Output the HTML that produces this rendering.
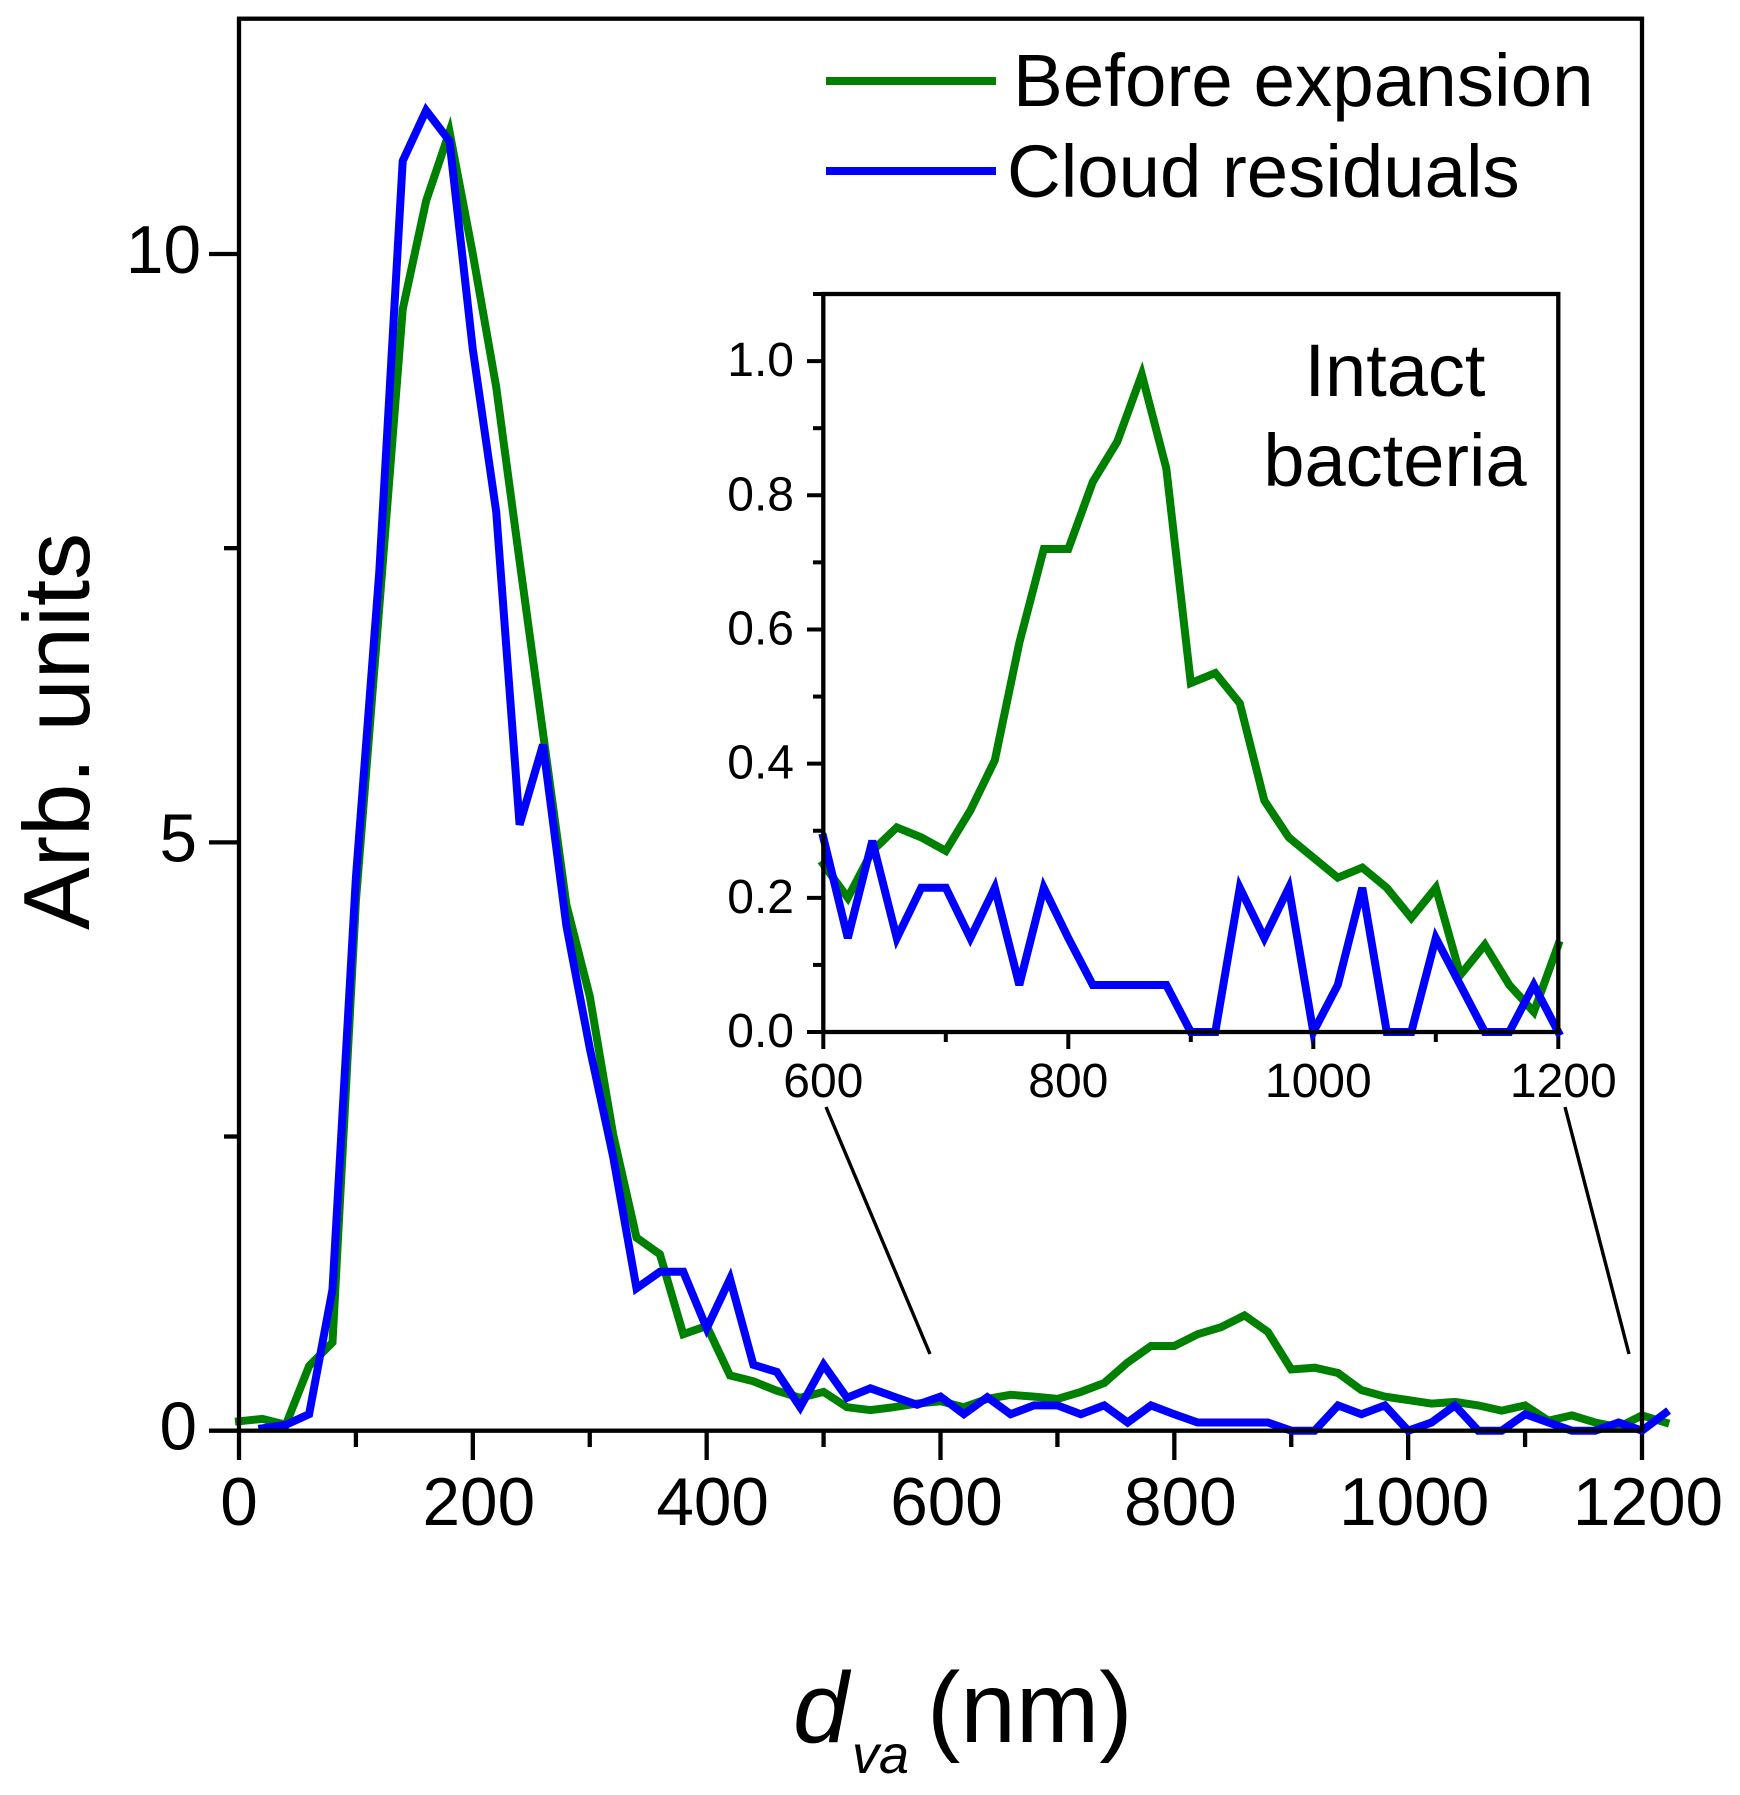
<!DOCTYPE html>
<html lang="en">
<head>
<meta charset="utf-8">
<title>Size distribution chart</title>
<style>
html,body{margin:0;padding:0;background:#fff;}
svg{display:block;}
text{font-family:"Liberation Sans",Arial,sans-serif;fill:#000;}
</style>
</head>
<body>
<svg id="chart" xmlns="http://www.w3.org/2000/svg" width="1740" height="1795" viewBox="0 0 1740 1795">
  <rect x="0" y="0" width="1740" height="1795" fill="#fff"/>
  <g id="main-marks"></g>
  <rect x="239" y="18.7" width="1403" height="1412" fill="none" stroke="#000" stroke-width="4.3"/>
  <g id="inset-marks"></g>
  <rect x="823.3" y="294" width="735" height="738" fill="none" stroke="#000" stroke-width="4.3"/>
  <line x1="826" y1="1107" x2="930" y2="1354" stroke="#000" stroke-width="3.4"/>
  <line x1="1565" y1="1107" x2="1629" y2="1354" stroke="#000" stroke-width="3.4"/>
  <line x1="826" y1="81" x2="996" y2="81" stroke="#008000" stroke-width="8"/>
  <text x="1013" y="106" font-size="74.6">Before expansion</text>
  <line x1="826" y1="171" x2="996" y2="171" stroke="#0000ff" stroke-width="8"/>
  <text x="1007" y="197" font-size="74.4">Cloud residuals</text>
  <text x="1395" y="396" font-size="74" text-anchor="middle">Intact</text>
  <text x="1395" y="486" font-size="74" text-anchor="middle">bacteria</text>
  <text transform="translate(89,930) rotate(-90)" font-size="94">Arb. units</text>
  <text font-size="100"><tspan font-style="italic" x="793" y="1742">d</tspan><tspan font-style="italic" font-size="54" x="852" y="1773">va</tspan><tspan x="927" y="1742">(nm)</tspan></text>
</svg>
<script>
const binSizes = [0,20,40,60,80,100,120,140,160,180,200,220,240,260,280,300,320,340,360,380,400,420,440,460,480,500,520,540,560,580,600,620,640,660,680,700,720,740,760,780,800,820,840,860,880,900,920,940,960,980,1000,1020,1040,1060,1080,1100,1120,1140,1160,1180,1200,1220];
const beforeExpansion = [0.08,0.1,0.05,0.55,0.75,4.5,7.0,9.53,10.45,11.04,10.0,8.87,7.39,5.93,4.47,3.69,2.52,1.64,1.5,0.82,0.89,0.47,0.42,0.34,0.28,0.33,0.2,0.175,0.2,0.23,0.25,0.2,0.27,0.305,0.29,0.27,0.33,0.405,0.58,0.72,0.72,0.82,0.88,0.98,0.84,0.52,0.535,0.49,0.345,0.29,0.26,0.23,0.245,0.215,0.17,0.215,0.085,0.13,0.07,0.03,0.13,0.07];
const cloudResiduals = [null,0.02,0.05,0.14,1.2,4.7,7.3,10.79,11.22,10.96,9.19,7.81,5.15,5.83,4.29,3.25,2.33,1.21,1.35,1.35,0.87,1.29,0.56,0.5,0.2,0.56,0.28,0.36,0.29,0.22,0.29,0.14,0.285,0.14,0.215,0.215,0.14,0.215,0.07,0.215,0.14,0.07,0.07,0.07,0.07,0,0,0.215,0.14,0.215,0,0.07,0.215,0,0,0.14,0.07,0,0,0.07,0,0.15];
const mainXMajor = [0,200,400,600,800,1000,1200];
const mainXMinor = [100,300,500,700,900,1100];
const mainYMajor = [0,5,10];
const mainYMinor = [2.5,7.5];
const insetXMajor = [600,800,1000,1200];
const insetXMinor = [700,900,1100];
const insetYMajor = ["0.0","0.2","0.4","0.6","0.8","1.0"];
const insetYMinor = [0.1,0.3,0.5,0.7,0.9,1.1];

const NS = 'http://www.w3.org/2000/svg';
const mainX = d => 239 + d * (1403 / 1200);
const mainY = v => 1430.7 - v * 117.67;
const insetX = d => 823.3 + (d - 600) * (735 / 600);
const insetY = v => 1032 - v * 670.9;

function make(tag, parent, attrs, txt) {
  const el = document.createElementNS(NS, tag);
  for (const k in attrs) el.setAttribute(k, attrs[k]);
  if (txt !== undefined) el.textContent = txt;
  parent.appendChild(el);
  return el;
}
function seriesPoints(values, fx, fy, lo, hi) {
  const pts = [];
  binSizes.forEach((d, i) => {
    if (values[i] === null || d < lo || d > hi) return;
    pts.push(fx(d).toFixed(1) + ',' + fy(values[i]).toFixed(1));
  });
  return pts.join(' ');
}
const mainG = document.getElementById('main-marks');
const insetG = document.getElementById('inset-marks');

function tick(parent, x1, y1, x2, y2, w, name) {
  const t = make('line', parent, {x1, y1, x2, y2, stroke: '#000', 'stroke-width': w});
  
  
}
function label(parent, x, y, size, anchor, str, name) {
  const t = make('text', parent, {x, y, 'font-size': size, 'text-anchor': anchor}, str);
  
  
}
const seriesStyle = {fill: 'none', 'stroke-width': 8, 'stroke-linejoin': 'miter', 'stroke-linecap': 'square'};

mainXMajor.forEach(v => {
  tick(mainG, mainX(v), 1430.7, mainX(v), 1460, 4.3, 'main-x-major-tick');
  label(mainG, mainX(v) + (v === 0 ? 0 : 6), 1525, 67.5, 'middle', String(v), 'main-x-tick-label');
});
mainXMinor.forEach(v => tick(mainG, mainX(v), 1430.7, mainX(v), 1447, 4.3, 'main-x-minor-tick'));
mainYMajor.forEach(v => {
  tick(mainG, 239, mainY(v), 209, mainY(v), 4.3, 'main-y-major-tick');
  label(mainG, v === 10 ? 201 : 197, mainY(v) + 19, 67.5, 'end', String(v), 'main-y-tick-label');
});
mainYMinor.forEach(v => tick(mainG, 239, mainY(v), 224, mainY(v), 4.3, 'main-y-minor-tick'));

const mainGreen = make('polyline', mainG, Object.assign({points: seriesPoints(beforeExpansion, mainX, mainY, 0, 1220), stroke: '#008000'}, seriesStyle));


const mainBlue = make('polyline', mainG, Object.assign({points: seriesPoints(cloudResiduals, mainX, mainY, 0, 1220), stroke: '#0000ff'}, seriesStyle));



insetXMajor.forEach(v => {
  tick(insetG, insetX(v), 1032, insetX(v), 1049, 4, 'inset-x-major-tick');
  label(insetG, insetX(v) + (v >= 1000 ? 5 : 0), 1097, 48, 'middle', String(v), 'inset-x-tick-label');
});
insetXMinor.forEach(v => tick(insetG, insetX(v), 1032, insetX(v), 1042, 4, 'inset-x-minor-tick'));
insetYMajor.forEach(s => {
  const v = parseFloat(s);
  tick(insetG, 823.3, insetY(v), 807, insetY(v), 4, 'inset-y-major-tick');
  label(insetG, 794, insetY(v) + 15, 48, 'end', s, 'inset-y-tick-label');
});
insetYMinor.forEach(v => tick(insetG, 823.3, insetY(v), 813, insetY(v), 4, 'inset-y-minor-tick'));

const insetGreen = make('polyline', insetG, Object.assign({points: seriesPoints(beforeExpansion, insetX, insetY, 600, 1200), stroke: '#008000'}, seriesStyle));


const insetBlue = make('polyline', insetG, Object.assign({points: seriesPoints(cloudResiduals, insetX, insetY, 600, 1200), stroke: '#0000ff'}, seriesStyle));


</script>
</body>
</html>
